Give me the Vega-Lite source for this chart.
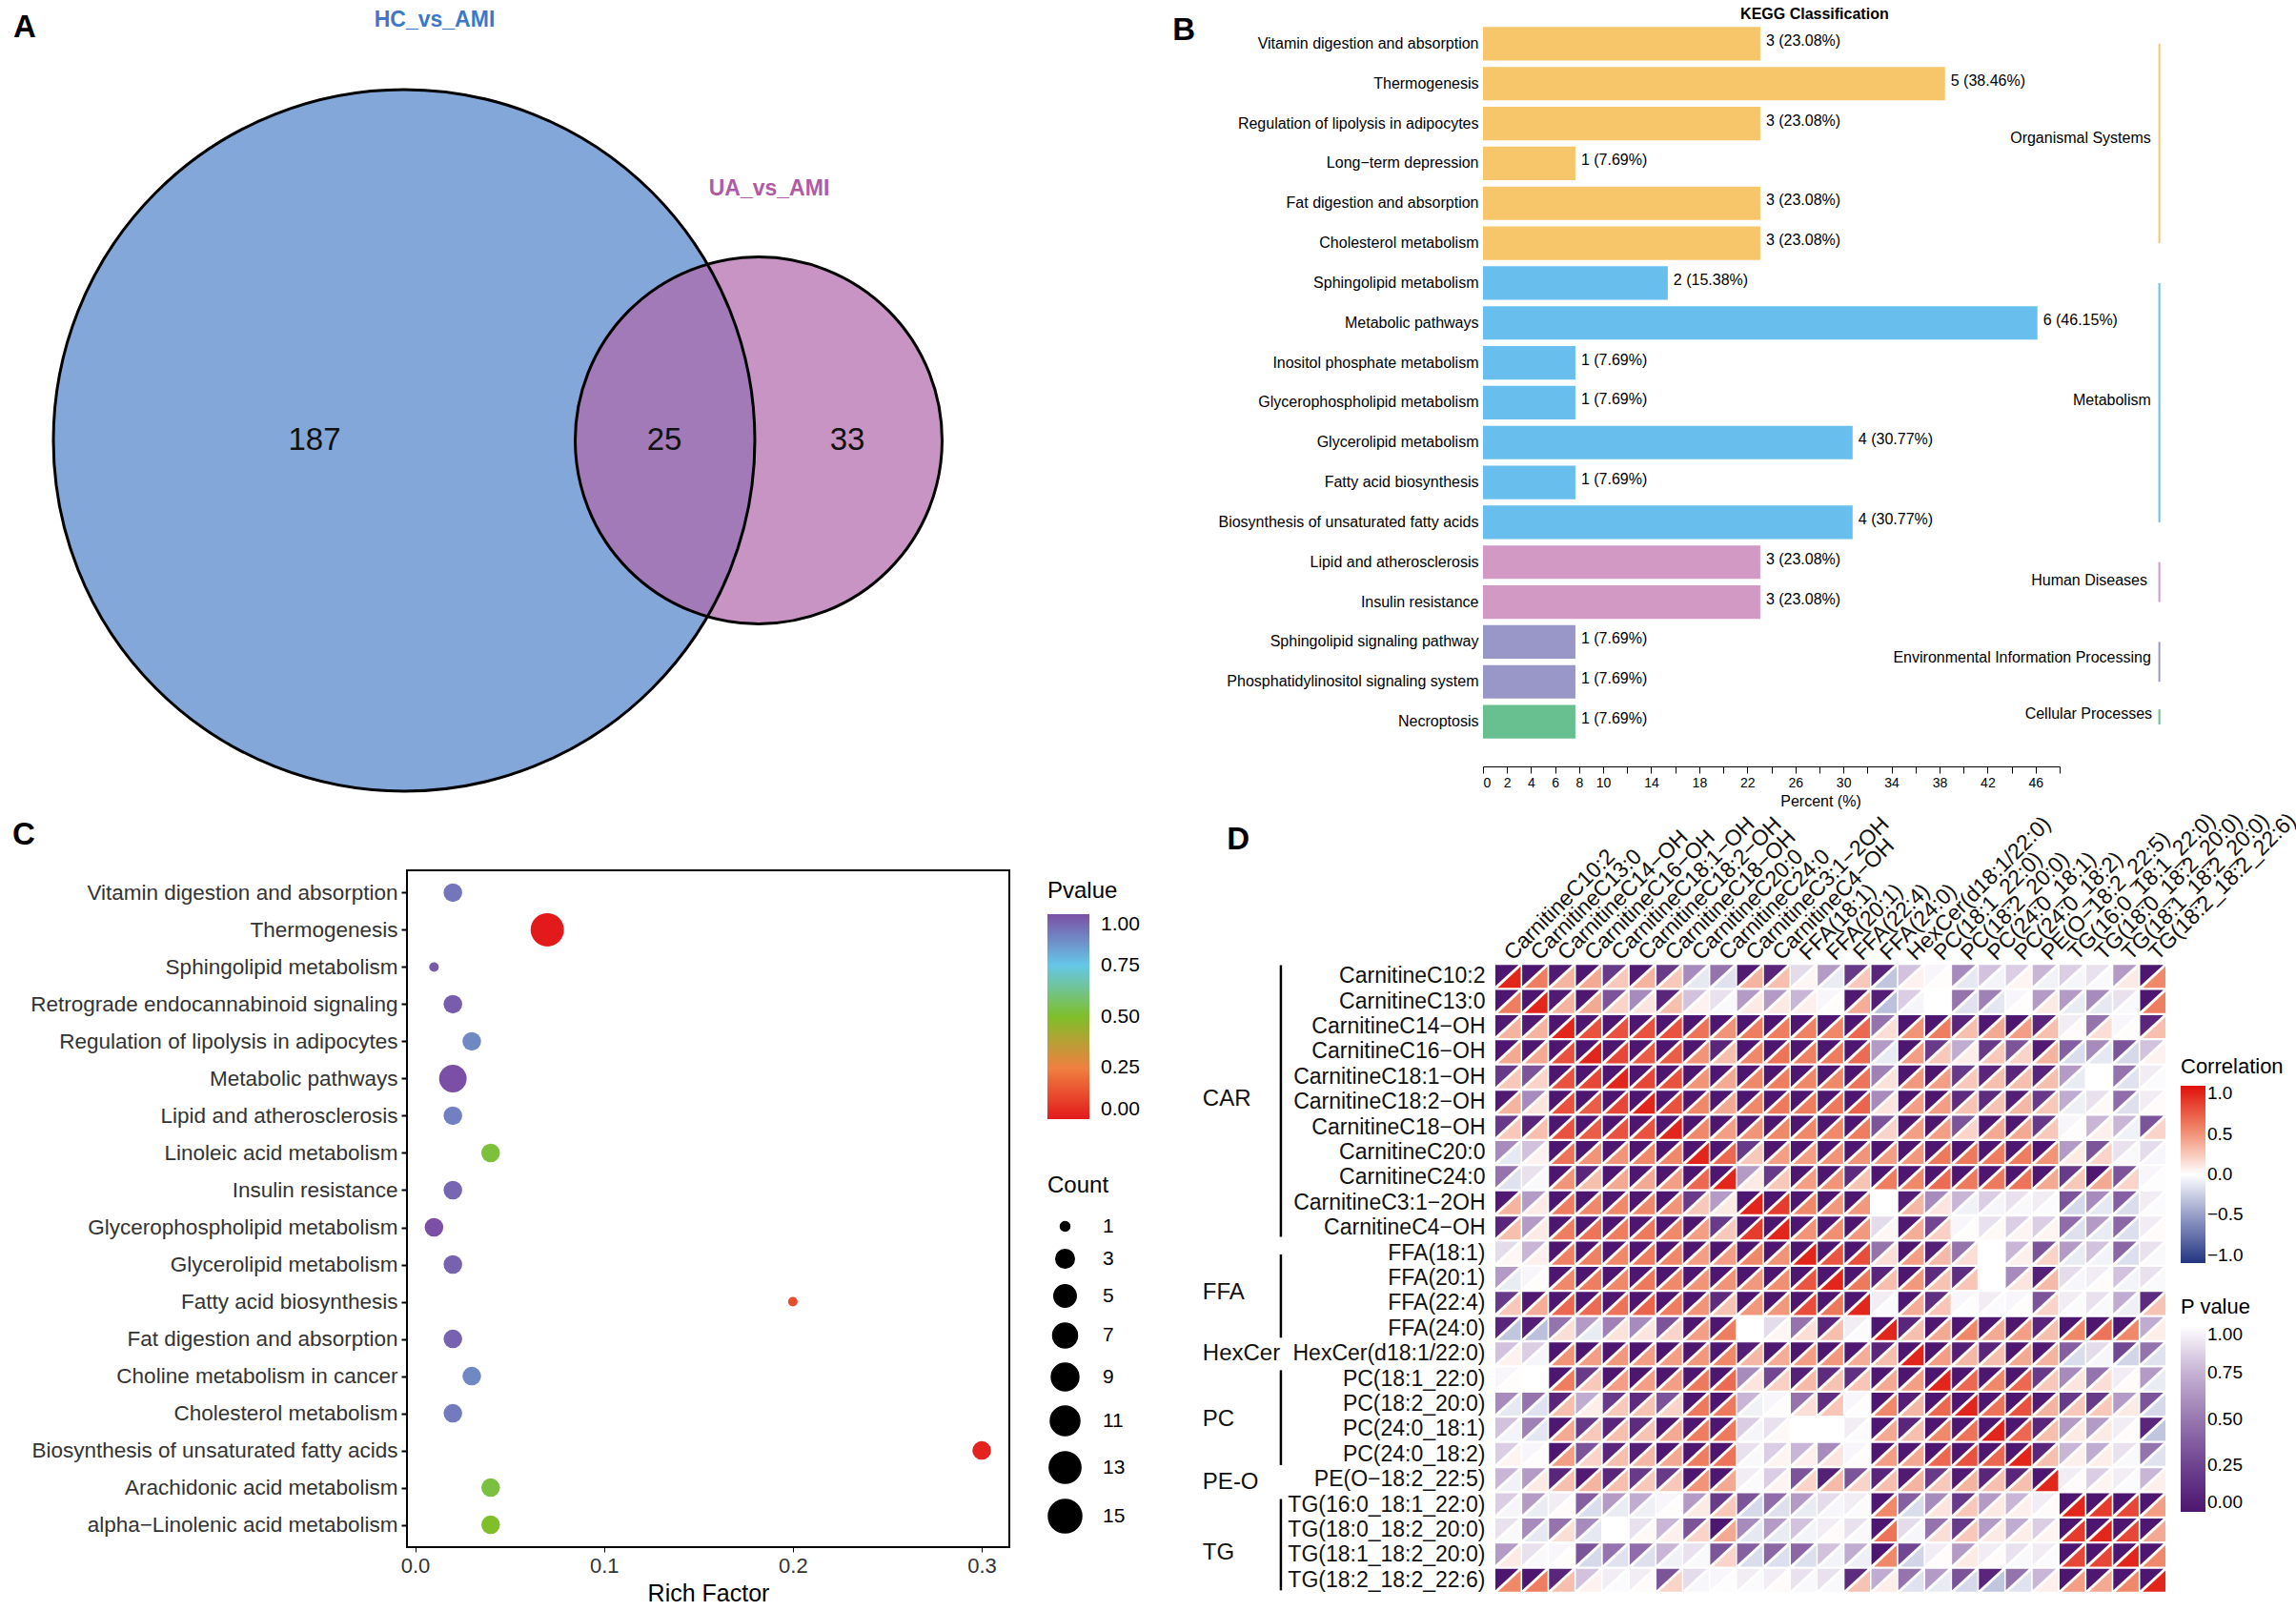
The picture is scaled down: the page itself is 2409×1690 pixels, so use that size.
{"$schema":"https://vega.github.io/schema/vega-lite/v6.json","background":"white","padding":{"left":12,"top":6,"right":0,"bottom":0},"config":{"font":"Liberation Sans","view":{"stroke":null},"axis":{"grid":false},"title":{"font":"Liberation Sans"},"legend":{"titleFont":"Liberation Sans","labelFont":"Liberation Sans"}},"datasets":{"vars":[{"k":0,"n":"CarnitineC10:2"},{"k":1,"n":"CarnitineC13:0"},{"k":2,"n":"CarnitineC14−OH"},{"k":3,"n":"CarnitineC16−OH"},{"k":4,"n":"CarnitineC18:1−OH"},{"k":5,"n":"CarnitineC18:2−OH"},{"k":6,"n":"CarnitineC18−OH"},{"k":7,"n":"CarnitineC20:0"},{"k":8,"n":"CarnitineC24:0"},{"k":9,"n":"CarnitineC3:1−2OH"},{"k":10,"n":"CarnitineC4−OH"},{"k":11,"n":"FFA(18:1)"},{"k":12,"n":"FFA(20:1)"},{"k":13,"n":"FFA(22:4)"},{"k":14,"n":"FFA(24:0)"},{"k":15,"n":"HexCer(d18:1/22:0)"},{"k":16,"n":"PC(18:1_22:0)"},{"k":17,"n":"PC(18:2_20:0)"},{"k":18,"n":"PC(24:0_18:1)"},{"k":19,"n":"PC(24:0_18:2)"},{"k":20,"n":"PE(O−18:2_22:5)"},{"k":21,"n":"TG(16:0_18:1_22:0)"},{"k":22,"n":"TG(18:0_18:2_20:0)"},{"k":23,"n":"TG(18:1_18:2_20:0)"},{"k":24,"n":"TG(18:2_18:2_22:6)"}],
"cells":[
{"i":0,"j":0,"r":1,"p":0},{"i":0,"j":1,"r":0.6,"p":0},{"i":0,"j":2,"r":0.35,"p":0.03},{"i":0,"j":3,"r":0.4,"p":0.006},{"i":0,"j":4,"r":0.25,"p":0.2},{"i":0,"j":5,"r":0.35,"p":0.03},{"i":0,"j":6,"r":0.25,"p":0.2},{"i":0,"j":7,"r":-0.12,"p":0.58},{"i":0,"j":8,"r":-0.15,"p":0.48},{"i":0,"j":9,"r":0.35,"p":0.03},{"i":0,"j":10,"r":0.3,"p":0.09},{"i":0,"j":11,"r":0.04,"p":0.88},{"i":0,"j":12,"r":-0.1,"p":0.65},{"i":0,"j":13,"r":0.25,"p":0.2},{"i":0,"j":14,"r":-0.3,"p":0.09},{"i":0,"j":15,"r":0.06,"p":0.8},{"i":0,"j":16,"r":0.01,"p":0.97},{"i":0,"j":17,"r":-0.12,"p":0.58},{"i":0,"j":18,"r":-0.06,"p":0.8},{"i":0,"j":19,"r":0.05,"p":0.84},{"i":0,"j":20,"r":-0.07,"p":0.76},{"i":0,"j":21,"r":-0.05,"p":0.84},{"i":0,"j":22,"r":-0.03,"p":0.9},{"i":0,"j":23,"r":0.1,"p":0.65},{"i":0,"j":24,"r":0.55,"p":0},
{"i":1,"j":0,"r":0.6,"p":0},{"i":1,"j":1,"r":1,"p":0},{"i":1,"j":2,"r":0.35,"p":0.03},{"i":1,"j":3,"r":0.4,"p":0.006},{"i":1,"j":4,"r":0.2,"p":0.33},{"i":1,"j":5,"r":0.12,"p":0.58},{"i":1,"j":6,"r":0.3,"p":0.09},{"i":1,"j":7,"r":0.06,"p":0.8},{"i":1,"j":8,"r":-0.03,"p":0.9},{"i":1,"j":9,"r":0.1,"p":0.65},{"i":1,"j":10,"r":0.1,"p":0.65},{"i":1,"j":11,"r":0.07,"p":0.76},{"i":1,"j":12,"r":0.01,"p":0.97},{"i":1,"j":13,"r":0.38,"p":0.015},{"i":1,"j":14,"r":-0.33,"p":0.05},{"i":1,"j":15,"r":-0.05,"p":0.84},{"i":1,"j":16,"r":0,"p":1},{"i":1,"j":17,"r":-0.15,"p":0.48},{"i":1,"j":18,"r":-0.13,"p":0.54},{"i":1,"j":19,"r":0.01,"p":0.97},{"i":1,"j":20,"r":0.1,"p":0.65},{"i":1,"j":21,"r":-0.1,"p":0.65},{"i":1,"j":22,"r":-0.12,"p":0.58},{"i":1,"j":23,"r":-0.03,"p":0.9},{"i":1,"j":24,"r":0.6,"p":0},
{"i":2,"j":0,"r":0.35,"p":0.03},{"i":2,"j":1,"r":0.35,"p":0.03},{"i":2,"j":2,"r":1,"p":0},{"i":2,"j":3,"r":0.8,"p":0},{"i":2,"j":4,"r":0.8,"p":0},{"i":2,"j":5,"r":0.8,"p":0},{"i":2,"j":6,"r":0.8,"p":0},{"i":2,"j":7,"r":0.65,"p":0},{"i":2,"j":8,"r":0.5,"p":0},{"i":2,"j":9,"r":0.6,"p":0},{"i":2,"j":10,"r":0.6,"p":0},{"i":2,"j":11,"r":0.58,"p":0},{"i":2,"j":12,"r":0.55,"p":0},{"i":2,"j":13,"r":0.7,"p":0},{"i":2,"j":14,"r":0.15,"p":0.48},{"i":2,"j":15,"r":0.5,"p":0},{"i":2,"j":16,"r":0.6,"p":0},{"i":2,"j":17,"r":0.3,"p":0.09},{"i":2,"j":18,"r":0.4,"p":0.006},{"i":2,"j":19,"r":0.45,"p":0.003},{"i":2,"j":20,"r":0.3,"p":0.09},{"i":2,"j":21,"r":0.02,"p":0.94},{"i":2,"j":22,"r":0.15,"p":0.48},{"i":2,"j":23,"r":0.01,"p":0.97},{"i":2,"j":24,"r":0.3,"p":0.09},
{"i":3,"j":0,"r":0.4,"p":0.006},{"i":3,"j":1,"r":0.4,"p":0.006},{"i":3,"j":2,"r":0.8,"p":0},{"i":3,"j":3,"r":1,"p":0},{"i":3,"j":4,"r":0.85,"p":0},{"i":3,"j":5,"r":0.75,"p":0},{"i":3,"j":6,"r":0.75,"p":0},{"i":3,"j":7,"r":0.5,"p":0},{"i":3,"j":8,"r":0.3,"p":0.09},{"i":3,"j":9,"r":0.55,"p":0},{"i":3,"j":10,"r":0.65,"p":0},{"i":3,"j":11,"r":0.58,"p":0},{"i":3,"j":12,"r":0.6,"p":0},{"i":3,"j":13,"r":0.68,"p":0},{"i":3,"j":14,"r":-0.1,"p":0.65},{"i":3,"j":15,"r":0.45,"p":0.003},{"i":3,"j":16,"r":0.25,"p":0.2},{"i":3,"j":17,"r":0.08,"p":0.72},{"i":3,"j":18,"r":0.25,"p":0.2},{"i":3,"j":19,"r":0.2,"p":0.33},{"i":3,"j":20,"r":0.35,"p":0.03},{"i":3,"j":21,"r":-0.18,"p":0.38},{"i":3,"j":22,"r":-0.12,"p":0.58},{"i":3,"j":23,"r":-0.2,"p":0.33},{"i":3,"j":24,"r":0.06,"p":0.8},
{"i":4,"j":0,"r":0.25,"p":0.2},{"i":4,"j":1,"r":0.2,"p":0.33},{"i":4,"j":2,"r":0.8,"p":0},{"i":4,"j":3,"r":0.85,"p":0},{"i":4,"j":4,"r":1,"p":0},{"i":4,"j":5,"r":0.85,"p":0},{"i":4,"j":6,"r":0.8,"p":0},{"i":4,"j":7,"r":0.5,"p":0},{"i":4,"j":8,"r":0.4,"p":0.006},{"i":4,"j":9,"r":0.55,"p":0},{"i":4,"j":10,"r":0.6,"p":0},{"i":4,"j":11,"r":0.55,"p":0},{"i":4,"j":12,"r":0.55,"p":0},{"i":4,"j":13,"r":0.65,"p":0},{"i":4,"j":14,"r":0.13,"p":0.54},{"i":4,"j":15,"r":0.48,"p":0.003},{"i":4,"j":16,"r":0.45,"p":0.003},{"i":4,"j":17,"r":0.25,"p":0.2},{"i":4,"j":18,"r":0.3,"p":0.09},{"i":4,"j":19,"r":0.3,"p":0.09},{"i":4,"j":20,"r":0.3,"p":0.09},{"i":4,"j":21,"r":-0.1,"p":0.65},{"i":4,"j":22,"r":0,"p":1},{"i":4,"j":23,"r":-0.15,"p":0.48},{"i":4,"j":24,"r":-0.02,"p":0.94},
{"i":5,"j":0,"r":0.35,"p":0.03},{"i":5,"j":1,"r":0.12,"p":0.58},{"i":5,"j":2,"r":0.8,"p":0},{"i":5,"j":3,"r":0.75,"p":0},{"i":5,"j":4,"r":0.85,"p":0},{"i":5,"j":5,"r":1,"p":0},{"i":5,"j":6,"r":0.8,"p":0},{"i":5,"j":7,"r":0.55,"p":0},{"i":5,"j":8,"r":0.4,"p":0.006},{"i":5,"j":9,"r":0.55,"p":0},{"i":5,"j":10,"r":0.62,"p":0},{"i":5,"j":11,"r":0.6,"p":0},{"i":5,"j":12,"r":0.62,"p":0},{"i":5,"j":13,"r":0.72,"p":0},{"i":5,"j":14,"r":0.12,"p":0.58},{"i":5,"j":15,"r":0.45,"p":0.003},{"i":5,"j":16,"r":0.45,"p":0.003},{"i":5,"j":17,"r":0.28,"p":0.12},{"i":5,"j":18,"r":0.28,"p":0.12},{"i":5,"j":19,"r":0.33,"p":0.05},{"i":5,"j":20,"r":0.25,"p":0.2},{"i":5,"j":21,"r":-0.08,"p":0.72},{"i":5,"j":22,"r":0.03,"p":0.9},{"i":5,"j":23,"r":-0.16,"p":0.45},{"i":5,"j":24,"r":0.02,"p":0.94},
{"i":6,"j":0,"r":0.25,"p":0.2},{"i":6,"j":1,"r":0.3,"p":0.09},{"i":6,"j":2,"r":0.8,"p":0},{"i":6,"j":3,"r":0.75,"p":0},{"i":6,"j":4,"r":0.8,"p":0},{"i":6,"j":5,"r":0.8,"p":0},{"i":6,"j":6,"r":1,"p":0},{"i":6,"j":7,"r":0.55,"p":0},{"i":6,"j":8,"r":0.45,"p":0.003},{"i":6,"j":9,"r":0.5,"p":0},{"i":6,"j":10,"r":0.55,"p":0},{"i":6,"j":11,"r":0.55,"p":0},{"i":6,"j":12,"r":0.55,"p":0},{"i":6,"j":13,"r":0.6,"p":0},{"i":6,"j":14,"r":0.2,"p":0.33},{"i":6,"j":15,"r":0.45,"p":0.003},{"i":6,"j":16,"r":0.45,"p":0.003},{"i":6,"j":17,"r":0.2,"p":0.33},{"i":6,"j":18,"r":0.4,"p":0.006},{"i":6,"j":19,"r":0.4,"p":0.006},{"i":6,"j":20,"r":0.25,"p":0.2},{"i":6,"j":21,"r":0.01,"p":0.97},{"i":6,"j":22,"r":0.07,"p":0.76},{"i":6,"j":23,"r":-0.07,"p":0.76},{"i":6,"j":24,"r":0.2,"p":0.33},
{"i":7,"j":0,"r":-0.12,"p":0.58},{"i":7,"j":1,"r":0.06,"p":0.8},{"i":7,"j":2,"r":0.65,"p":0},{"i":7,"j":3,"r":0.5,"p":0},{"i":7,"j":4,"r":0.5,"p":0},{"i":7,"j":5,"r":0.55,"p":0},{"i":7,"j":6,"r":0.55,"p":0},{"i":7,"j":7,"r":1,"p":0},{"i":7,"j":8,"r":0.7,"p":0},{"i":7,"j":9,"r":0.25,"p":0.2},{"i":7,"j":10,"r":0.45,"p":0.003},{"i":7,"j":11,"r":0.45,"p":0.003},{"i":7,"j":12,"r":0.5,"p":0},{"i":7,"j":13,"r":0.5,"p":0},{"i":7,"j":14,"r":0.45,"p":0.003},{"i":7,"j":15,"r":0.48,"p":0.003},{"i":7,"j":16,"r":0.62,"p":0},{"i":7,"j":17,"r":0.62,"p":0},{"i":7,"j":18,"r":0.6,"p":0},{"i":7,"j":19,"r":0.6,"p":0},{"i":7,"j":20,"r":0.5,"p":0},{"i":7,"j":21,"r":0.1,"p":0.65},{"i":7,"j":22,"r":0.2,"p":0.33},{"i":7,"j":23,"r":-0.03,"p":0.9},{"i":7,"j":24,"r":-0.04,"p":0.88},
{"i":8,"j":0,"r":-0.15,"p":0.48},{"i":8,"j":1,"r":-0.03,"p":0.9},{"i":8,"j":2,"r":0.5,"p":0},{"i":8,"j":3,"r":0.3,"p":0.09},{"i":8,"j":4,"r":0.4,"p":0.006},{"i":8,"j":5,"r":0.4,"p":0.006},{"i":8,"j":6,"r":0.45,"p":0.003},{"i":8,"j":7,"r":0.7,"p":0},{"i":8,"j":8,"r":1,"p":0},{"i":8,"j":9,"r":0.1,"p":0.65},{"i":8,"j":10,"r":0.25,"p":0.2},{"i":8,"j":11,"r":0.45,"p":0.003},{"i":8,"j":12,"r":0.5,"p":0},{"i":8,"j":13,"r":0.28,"p":0.12},{"i":8,"j":14,"r":0.6,"p":0},{"i":8,"j":15,"r":0.55,"p":0},{"i":8,"j":16,"r":0.68,"p":0},{"i":8,"j":17,"r":0.62,"p":0},{"i":8,"j":18,"r":0.62,"p":0},{"i":8,"j":19,"r":0.65,"p":0},{"i":8,"j":20,"r":0.4,"p":0.006},{"i":8,"j":21,"r":0.25,"p":0.2},{"i":8,"j":22,"r":0.4,"p":0.006},{"i":8,"j":23,"r":0.2,"p":0.33},{"i":8,"j":24,"r":-0.01,"p":0.97},
{"i":9,"j":0,"r":0.35,"p":0.03},{"i":9,"j":1,"r":0.1,"p":0.65},{"i":9,"j":2,"r":0.6,"p":0},{"i":9,"j":3,"r":0.55,"p":0},{"i":9,"j":4,"r":0.55,"p":0},{"i":9,"j":5,"r":0.55,"p":0},{"i":9,"j":6,"r":0.5,"p":0},{"i":9,"j":7,"r":0.25,"p":0.2},{"i":9,"j":8,"r":0.1,"p":0.65},{"i":9,"j":9,"r":1,"p":0},{"i":9,"j":10,"r":0.9,"p":0},{"i":9,"j":11,"r":0.55,"p":0},{"i":9,"j":12,"r":0.48,"p":0.003},{"i":9,"j":13,"r":0.48,"p":0.003},{"i":9,"j":14,"r":0,"p":1},{"i":9,"j":15,"r":0.33,"p":0.05},{"i":9,"j":16,"r":0.12,"p":0.58},{"i":9,"j":17,"r":-0.07,"p":0.76},{"i":9,"j":18,"r":-0.05,"p":0.84},{"i":9,"j":19,"r":-0.03,"p":0.9},{"i":9,"j":20,"r":-0.02,"p":0.94},{"i":9,"j":21,"r":-0.2,"p":0.33},{"i":9,"j":22,"r":-0.12,"p":0.58},{"i":9,"j":23,"r":-0.18,"p":0.38},{"i":9,"j":24,"r":-0.02,"p":0.94},
{"i":10,"j":0,"r":0.3,"p":0.09},{"i":10,"j":1,"r":0.1,"p":0.65},{"i":10,"j":2,"r":0.6,"p":0},{"i":10,"j":3,"r":0.65,"p":0},{"i":10,"j":4,"r":0.6,"p":0},{"i":10,"j":5,"r":0.62,"p":0},{"i":10,"j":6,"r":0.55,"p":0},{"i":10,"j":7,"r":0.45,"p":0.003},{"i":10,"j":8,"r":0.25,"p":0.2},{"i":10,"j":9,"r":0.9,"p":0},{"i":10,"j":10,"r":1,"p":0},{"i":10,"j":11,"r":0.5,"p":0},{"i":10,"j":12,"r":0.52,"p":0},{"i":10,"j":13,"r":0.48,"p":0.003},{"i":10,"j":14,"r":0.04,"p":0.88},{"i":10,"j":15,"r":0.38,"p":0.015},{"i":10,"j":16,"r":0.22,"p":0.27},{"i":10,"j":17,"r":0.01,"p":0.97},{"i":10,"j":18,"r":0.03,"p":0.9},{"i":10,"j":19,"r":0.05,"p":0.84},{"i":10,"j":20,"r":0.05,"p":0.84},{"i":10,"j":21,"r":-0.16,"p":0.45},{"i":10,"j":22,"r":-0.1,"p":0.65},{"i":10,"j":23,"r":-0.17,"p":0.42},{"i":10,"j":24,"r":0.02,"p":0.94},
{"i":11,"j":0,"r":0.04,"p":0.88},{"i":11,"j":1,"r":0.07,"p":0.76},{"i":11,"j":2,"r":0.58,"p":0},{"i":11,"j":3,"r":0.58,"p":0},{"i":11,"j":4,"r":0.55,"p":0},{"i":11,"j":5,"r":0.6,"p":0},{"i":11,"j":6,"r":0.55,"p":0},{"i":11,"j":7,"r":0.45,"p":0.003},{"i":11,"j":8,"r":0.45,"p":0.003},{"i":11,"j":9,"r":0.55,"p":0},{"i":11,"j":10,"r":0.5,"p":0},{"i":11,"j":11,"r":1,"p":0},{"i":11,"j":12,"r":0.78,"p":0},{"i":11,"j":13,"r":0.82,"p":0},{"i":11,"j":14,"r":0.15,"p":0.48},{"i":11,"j":15,"r":0.45,"p":0.003},{"i":11,"j":16,"r":0.32,"p":0.06},{"i":11,"j":17,"r":0.15,"p":0.48},{"i":11,"j":18,"r":0,"p":1},{"i":11,"j":19,"r":0.07,"p":0.76},{"i":11,"j":20,"r":0.2,"p":0.33},{"i":11,"j":21,"r":-0.1,"p":0.65},{"i":11,"j":22,"r":-0.06,"p":0.8},{"i":11,"j":23,"r":-0.17,"p":0.42},{"i":11,"j":24,"r":-0.03,"p":0.9},
{"i":12,"j":0,"r":-0.1,"p":0.65},{"i":12,"j":1,"r":0.01,"p":0.97},{"i":12,"j":2,"r":0.55,"p":0},{"i":12,"j":3,"r":0.6,"p":0},{"i":12,"j":4,"r":0.55,"p":0},{"i":12,"j":5,"r":0.62,"p":0},{"i":12,"j":6,"r":0.55,"p":0},{"i":12,"j":7,"r":0.5,"p":0},{"i":12,"j":8,"r":0.5,"p":0},{"i":12,"j":9,"r":0.48,"p":0.003},{"i":12,"j":10,"r":0.52,"p":0},{"i":12,"j":11,"r":0.78,"p":0},{"i":12,"j":12,"r":1,"p":0},{"i":12,"j":13,"r":0.62,"p":0},{"i":12,"j":14,"r":0.3,"p":0.09},{"i":12,"j":15,"r":0.48,"p":0.003},{"i":12,"j":16,"r":0.28,"p":0.12},{"i":12,"j":17,"r":0.27,"p":0.14},{"i":12,"j":18,"r":0,"p":1},{"i":12,"j":19,"r":0.12,"p":0.58},{"i":12,"j":20,"r":0.32,"p":0.06},{"i":12,"j":21,"r":-0.04,"p":0.88},{"i":12,"j":22,"r":0.02,"p":0.94},{"i":12,"j":23,"r":-0.06,"p":0.8},{"i":12,"j":24,"r":-0.03,"p":0.9},
{"i":13,"j":0,"r":0.25,"p":0.2},{"i":13,"j":1,"r":0.38,"p":0.015},{"i":13,"j":2,"r":0.7,"p":0},{"i":13,"j":3,"r":0.68,"p":0},{"i":13,"j":4,"r":0.65,"p":0},{"i":13,"j":5,"r":0.72,"p":0},{"i":13,"j":6,"r":0.6,"p":0},{"i":13,"j":7,"r":0.5,"p":0},{"i":13,"j":8,"r":0.28,"p":0.12},{"i":13,"j":9,"r":0.48,"p":0.003},{"i":13,"j":10,"r":0.48,"p":0.003},{"i":13,"j":11,"r":0.82,"p":0},{"i":13,"j":12,"r":0.62,"p":0},{"i":13,"j":13,"r":1,"p":0},{"i":13,"j":14,"r":-0.02,"p":0.94},{"i":13,"j":15,"r":0.38,"p":0.015},{"i":13,"j":16,"r":0.27,"p":0.14},{"i":13,"j":17,"r":-0.01,"p":0.97},{"i":13,"j":18,"r":-0.02,"p":0.94},{"i":13,"j":19,"r":0.01,"p":0.97},{"i":13,"j":20,"r":0.2,"p":0.33},{"i":13,"j":21,"r":-0.02,"p":0.94},{"i":13,"j":22,"r":-0.03,"p":0.9},{"i":13,"j":23,"r":-0.08,"p":0.72},{"i":13,"j":24,"r":0.28,"p":0.12},
{"i":14,"j":0,"r":-0.3,"p":0.09},{"i":14,"j":1,"r":-0.33,"p":0.05},{"i":14,"j":2,"r":0.15,"p":0.48},{"i":14,"j":3,"r":-0.1,"p":0.65},{"i":14,"j":4,"r":0.13,"p":0.54},{"i":14,"j":5,"r":0.12,"p":0.58},{"i":14,"j":6,"r":0.2,"p":0.33},{"i":14,"j":7,"r":0.45,"p":0.003},{"i":14,"j":8,"r":0.6,"p":0},{"i":14,"j":9,"r":0,"p":1},{"i":14,"j":10,"r":0.04,"p":0.88},{"i":14,"j":11,"r":0.15,"p":0.48},{"i":14,"j":12,"r":0.3,"p":0.09},{"i":14,"j":13,"r":-0.02,"p":0.94},{"i":14,"j":14,"r":1,"p":0},{"i":14,"j":15,"r":0.3,"p":0.09},{"i":14,"j":16,"r":0.4,"p":0.006},{"i":14,"j":17,"r":0.55,"p":0},{"i":14,"j":18,"r":0.4,"p":0.006},{"i":14,"j":19,"r":0.45,"p":0.003},{"i":14,"j":20,"r":0.3,"p":0.09},{"i":14,"j":21,"r":0.55,"p":0},{"i":14,"j":22,"r":0.65,"p":0},{"i":14,"j":23,"r":0.55,"p":0},{"i":14,"j":24,"r":0.08,"p":0.72},
{"i":15,"j":0,"r":0.06,"p":0.8},{"i":15,"j":1,"r":-0.05,"p":0.84},{"i":15,"j":2,"r":0.5,"p":0},{"i":15,"j":3,"r":0.45,"p":0.003},{"i":15,"j":4,"r":0.48,"p":0.003},{"i":15,"j":5,"r":0.45,"p":0.003},{"i":15,"j":6,"r":0.45,"p":0.003},{"i":15,"j":7,"r":0.48,"p":0.003},{"i":15,"j":8,"r":0.55,"p":0},{"i":15,"j":9,"r":0.33,"p":0.05},{"i":15,"j":10,"r":0.38,"p":0.015},{"i":15,"j":11,"r":0.45,"p":0.003},{"i":15,"j":12,"r":0.48,"p":0.003},{"i":15,"j":13,"r":0.38,"p":0.015},{"i":15,"j":14,"r":0.3,"p":0.09},{"i":15,"j":15,"r":1,"p":0},{"i":15,"j":16,"r":0.45,"p":0.003},{"i":15,"j":17,"r":0.33,"p":0.05},{"i":15,"j":18,"r":0.3,"p":0.09},{"i":15,"j":19,"r":0.4,"p":0.006},{"i":15,"j":20,"r":0.35,"p":0.03},{"i":15,"j":21,"r":-0.18,"p":0.38},{"i":15,"j":22,"r":-0.04,"p":0.88},{"i":15,"j":23,"r":-0.22,"p":0.27},{"i":15,"j":24,"r":-0.15,"p":0.48},
{"i":16,"j":0,"r":0.01,"p":0.97},{"i":16,"j":1,"r":0,"p":1},{"i":16,"j":2,"r":0.6,"p":0},{"i":16,"j":3,"r":0.25,"p":0.2},{"i":16,"j":4,"r":0.45,"p":0.003},{"i":16,"j":5,"r":0.45,"p":0.003},{"i":16,"j":6,"r":0.45,"p":0.003},{"i":16,"j":7,"r":0.62,"p":0},{"i":16,"j":8,"r":0.68,"p":0},{"i":16,"j":9,"r":0.12,"p":0.58},{"i":16,"j":10,"r":0.22,"p":0.27},{"i":16,"j":11,"r":0.32,"p":0.06},{"i":16,"j":12,"r":0.28,"p":0.12},{"i":16,"j":13,"r":0.27,"p":0.14},{"i":16,"j":14,"r":0.4,"p":0.006},{"i":16,"j":15,"r":0.45,"p":0.003},{"i":16,"j":16,"r":1,"p":0},{"i":16,"j":17,"r":0.7,"p":0},{"i":16,"j":18,"r":0.55,"p":0},{"i":16,"j":19,"r":0.7,"p":0},{"i":16,"j":20,"r":0.25,"p":0.2},{"i":16,"j":21,"r":0.12,"p":0.58},{"i":16,"j":22,"r":0.15,"p":0.48},{"i":16,"j":23,"r":0.02,"p":0.94},{"i":16,"j":24,"r":-0.1,"p":0.65},
{"i":17,"j":0,"r":-0.12,"p":0.58},{"i":17,"j":1,"r":-0.15,"p":0.48},{"i":17,"j":2,"r":0.3,"p":0.09},{"i":17,"j":3,"r":0.08,"p":0.72},{"i":17,"j":4,"r":0.25,"p":0.2},{"i":17,"j":5,"r":0.28,"p":0.12},{"i":17,"j":6,"r":0.2,"p":0.33},{"i":17,"j":7,"r":0.62,"p":0},{"i":17,"j":8,"r":0.62,"p":0},{"i":17,"j":9,"r":-0.07,"p":0.76},{"i":17,"j":10,"r":0.01,"p":0.97},{"i":17,"j":11,"r":0.15,"p":0.48},{"i":17,"j":12,"r":0.27,"p":0.14},{"i":17,"j":13,"r":-0.01,"p":0.97},{"i":17,"j":14,"r":0.55,"p":0},{"i":17,"j":15,"r":0.33,"p":0.05},{"i":17,"j":16,"r":0.7,"p":0},{"i":17,"j":17,"r":1,"p":0},{"i":17,"j":18,"r":0.65,"p":0},{"i":17,"j":19,"r":0.8,"p":0},{"i":17,"j":20,"r":0.35,"p":0.03},{"i":17,"j":21,"r":0.25,"p":0.2},{"i":17,"j":22,"r":0.25,"p":0.2},{"i":17,"j":23,"r":0.1,"p":0.65},{"i":17,"j":24,"r":-0.2,"p":0.33},
{"i":18,"j":0,"r":-0.06,"p":0.8},{"i":18,"j":1,"r":-0.13,"p":0.54},{"i":18,"j":2,"r":0.4,"p":0.006},{"i":18,"j":3,"r":0.25,"p":0.2},{"i":18,"j":4,"r":0.3,"p":0.09},{"i":18,"j":5,"r":0.28,"p":0.12},{"i":18,"j":6,"r":0.4,"p":0.006},{"i":18,"j":7,"r":0.6,"p":0},{"i":18,"j":8,"r":0.62,"p":0},{"i":18,"j":9,"r":-0.05,"p":0.84},{"i":18,"j":10,"r":0.03,"p":0.9},{"i":18,"j":11,"r":0,"p":1},{"i":18,"j":12,"r":0,"p":1},{"i":18,"j":13,"r":-0.02,"p":0.94},{"i":18,"j":14,"r":0.4,"p":0.006},{"i":18,"j":15,"r":0.3,"p":0.09},{"i":18,"j":16,"r":0.55,"p":0},{"i":18,"j":17,"r":0.65,"p":0},{"i":18,"j":18,"r":1,"p":0},{"i":18,"j":19,"r":0.7,"p":0},{"i":18,"j":20,"r":0.3,"p":0.09},{"i":18,"j":21,"r":0.1,"p":0.65},{"i":18,"j":22,"r":0.1,"p":0.65},{"i":18,"j":23,"r":0.02,"p":0.94},{"i":18,"j":24,"r":-0.3,"p":0.09},
{"i":19,"j":0,"r":0.05,"p":0.84},{"i":19,"j":1,"r":0.01,"p":0.97},{"i":19,"j":2,"r":0.45,"p":0.003},{"i":19,"j":3,"r":0.2,"p":0.33},{"i":19,"j":4,"r":0.3,"p":0.09},{"i":19,"j":5,"r":0.33,"p":0.05},{"i":19,"j":6,"r":0.4,"p":0.006},{"i":19,"j":7,"r":0.6,"p":0},{"i":19,"j":8,"r":0.65,"p":0},{"i":19,"j":9,"r":-0.03,"p":0.9},{"i":19,"j":10,"r":0.05,"p":0.84},{"i":19,"j":11,"r":0.07,"p":0.76},{"i":19,"j":12,"r":0.12,"p":0.58},{"i":19,"j":13,"r":0.01,"p":0.97},{"i":19,"j":14,"r":0.45,"p":0.003},{"i":19,"j":15,"r":0.4,"p":0.006},{"i":19,"j":16,"r":0.7,"p":0},{"i":19,"j":17,"r":0.8,"p":0},{"i":19,"j":18,"r":0.7,"p":0},{"i":19,"j":19,"r":1,"p":0},{"i":19,"j":20,"r":0.3,"p":0.09},{"i":19,"j":21,"r":0.07,"p":0.76},{"i":19,"j":22,"r":0.08,"p":0.72},{"i":19,"j":23,"r":-0.03,"p":0.9},{"i":19,"j":24,"r":-0.15,"p":0.48},
{"i":20,"j":0,"r":-0.07,"p":0.76},{"i":20,"j":1,"r":0.1,"p":0.65},{"i":20,"j":2,"r":0.3,"p":0.09},{"i":20,"j":3,"r":0.35,"p":0.03},{"i":20,"j":4,"r":0.3,"p":0.09},{"i":20,"j":5,"r":0.25,"p":0.2},{"i":20,"j":6,"r":0.25,"p":0.2},{"i":20,"j":7,"r":0.5,"p":0},{"i":20,"j":8,"r":0.4,"p":0.006},{"i":20,"j":9,"r":-0.02,"p":0.94},{"i":20,"j":10,"r":0.05,"p":0.84},{"i":20,"j":11,"r":0.2,"p":0.33},{"i":20,"j":12,"r":0.32,"p":0.06},{"i":20,"j":13,"r":0.2,"p":0.33},{"i":20,"j":14,"r":0.3,"p":0.09},{"i":20,"j":15,"r":0.35,"p":0.03},{"i":20,"j":16,"r":0.25,"p":0.2},{"i":20,"j":17,"r":0.35,"p":0.03},{"i":20,"j":18,"r":0.3,"p":0.09},{"i":20,"j":19,"r":0.3,"p":0.09},{"i":20,"j":20,"r":1,"p":0},{"i":20,"j":21,"r":0.02,"p":0.94},{"i":20,"j":22,"r":0.05,"p":0.84},{"i":20,"j":23,"r":-0.02,"p":0.94},{"i":20,"j":24,"r":0.07,"p":0.76},
{"i":21,"j":0,"r":-0.05,"p":0.84},{"i":21,"j":1,"r":-0.1,"p":0.65},{"i":21,"j":2,"r":0.02,"p":0.94},{"i":21,"j":3,"r":-0.18,"p":0.38},{"i":21,"j":4,"r":-0.1,"p":0.65},{"i":21,"j":5,"r":-0.08,"p":0.72},{"i":21,"j":6,"r":0.01,"p":0.97},{"i":21,"j":7,"r":0.1,"p":0.65},{"i":21,"j":8,"r":0.25,"p":0.2},{"i":21,"j":9,"r":-0.2,"p":0.33},{"i":21,"j":10,"r":-0.16,"p":0.45},{"i":21,"j":11,"r":-0.1,"p":0.65},{"i":21,"j":12,"r":-0.04,"p":0.88},{"i":21,"j":13,"r":-0.02,"p":0.94},{"i":21,"j":14,"r":0.55,"p":0},{"i":21,"j":15,"r":-0.18,"p":0.38},{"i":21,"j":16,"r":0.12,"p":0.58},{"i":21,"j":17,"r":0.25,"p":0.2},{"i":21,"j":18,"r":0.1,"p":0.65},{"i":21,"j":19,"r":0.07,"p":0.76},{"i":21,"j":20,"r":0.02,"p":0.94},{"i":21,"j":21,"r":1,"p":0},{"i":21,"j":22,"r":0.9,"p":0},{"i":21,"j":23,"r":0.85,"p":0},{"i":21,"j":24,"r":0.45,"p":0.003},
{"i":22,"j":0,"r":-0.03,"p":0.9},{"i":22,"j":1,"r":-0.12,"p":0.58},{"i":22,"j":2,"r":0.15,"p":0.48},{"i":22,"j":3,"r":-0.12,"p":0.58},{"i":22,"j":4,"r":0,"p":1},{"i":22,"j":5,"r":0.03,"p":0.9},{"i":22,"j":6,"r":0.07,"p":0.76},{"i":22,"j":7,"r":0.2,"p":0.33},{"i":22,"j":8,"r":0.4,"p":0.006},{"i":22,"j":9,"r":-0.12,"p":0.58},{"i":22,"j":10,"r":-0.1,"p":0.65},{"i":22,"j":11,"r":-0.06,"p":0.8},{"i":22,"j":12,"r":0.02,"p":0.94},{"i":22,"j":13,"r":-0.03,"p":0.9},{"i":22,"j":14,"r":0.65,"p":0},{"i":22,"j":15,"r":-0.04,"p":0.88},{"i":22,"j":16,"r":0.15,"p":0.48},{"i":22,"j":17,"r":0.25,"p":0.2},{"i":22,"j":18,"r":0.1,"p":0.65},{"i":22,"j":19,"r":0.08,"p":0.72},{"i":22,"j":20,"r":0.05,"p":0.84},{"i":22,"j":21,"r":0.9,"p":0},{"i":22,"j":22,"r":1,"p":0},{"i":22,"j":23,"r":0.85,"p":0},{"i":22,"j":24,"r":0.4,"p":0.006},
{"i":23,"j":0,"r":0.1,"p":0.65},{"i":23,"j":1,"r":-0.03,"p":0.9},{"i":23,"j":2,"r":0.01,"p":0.97},{"i":23,"j":3,"r":-0.2,"p":0.33},{"i":23,"j":4,"r":-0.15,"p":0.48},{"i":23,"j":5,"r":-0.16,"p":0.45},{"i":23,"j":6,"r":-0.07,"p":0.76},{"i":23,"j":7,"r":-0.03,"p":0.9},{"i":23,"j":8,"r":0.2,"p":0.33},{"i":23,"j":9,"r":-0.18,"p":0.38},{"i":23,"j":10,"r":-0.17,"p":0.42},{"i":23,"j":11,"r":-0.17,"p":0.42},{"i":23,"j":12,"r":-0.06,"p":0.8},{"i":23,"j":13,"r":-0.08,"p":0.72},{"i":23,"j":14,"r":0.55,"p":0},{"i":23,"j":15,"r":-0.22,"p":0.27},{"i":23,"j":16,"r":0.02,"p":0.94},{"i":23,"j":17,"r":0.1,"p":0.65},{"i":23,"j":18,"r":0.02,"p":0.94},{"i":23,"j":19,"r":-0.03,"p":0.9},{"i":23,"j":20,"r":-0.02,"p":0.94},{"i":23,"j":21,"r":0.85,"p":0},{"i":23,"j":22,"r":0.85,"p":0},{"i":23,"j":23,"r":1,"p":0},{"i":23,"j":24,"r":0.55,"p":0},
{"i":24,"j":0,"r":0.55,"p":0},{"i":24,"j":1,"r":0.6,"p":0},{"i":24,"j":2,"r":0.3,"p":0.09},{"i":24,"j":3,"r":0.06,"p":0.8},{"i":24,"j":4,"r":-0.02,"p":0.94},{"i":24,"j":5,"r":0.02,"p":0.94},{"i":24,"j":6,"r":0.2,"p":0.33},{"i":24,"j":7,"r":-0.04,"p":0.88},{"i":24,"j":8,"r":-0.01,"p":0.97},{"i":24,"j":9,"r":-0.02,"p":0.94},{"i":24,"j":10,"r":0.02,"p":0.94},{"i":24,"j":11,"r":-0.03,"p":0.9},{"i":24,"j":12,"r":-0.03,"p":0.9},{"i":24,"j":13,"r":0.28,"p":0.12},{"i":24,"j":14,"r":0.08,"p":0.72},{"i":24,"j":15,"r":-0.15,"p":0.48},{"i":24,"j":16,"r":-0.1,"p":0.65},{"i":24,"j":17,"r":-0.2,"p":0.33},{"i":24,"j":18,"r":-0.3,"p":0.09},{"i":24,"j":19,"r":-0.15,"p":0.48},{"i":24,"j":20,"r":0.07,"p":0.76},{"i":24,"j":21,"r":0.45,"p":0.003},{"i":24,"j":22,"r":0.4,"p":0.006},{"i":24,"j":23,"r":0.55,"p":0},{"i":24,"j":24,"r":1,"p":0}
]},
"bounds":"flush","spacing":1129,"resolve":{"scale":{"color":"independent","size":"independent"},"legend":{"color":"independent","size":"independent"}},
"hconcat":[
{"bounds":"flush","spacing":135,"resolve":{"scale":{"color":"independent","size":"independent"},"legend":{"color":"independent","size":"independent"}},"vconcat":[
{"width":632,"height":753,
"layer":[
{"data":{"values":[{"set":"HC_vs_AMI","vx":-0.75,"vy":109.25,"total":212},{"set":"UA_vs_AMI","vx":92.25,"vy":109.25,"total":58}]},
"layer":[
{"transform":[{"filter":"datum.set=='HC_vs_AMI'"}],"mark":{"type":"point","filled":true,"opacity":1,"color":"#82A7D8"},"encoding":{}},
{"transform":[{"filter":"datum.set=='UA_vs_AMI'"}],"mark":{"type":"point","filled":true,"opacity":0.7,"color":"#AF66A9"},"encoding":{}},
{"mark":{"type":"point","filled":false,"opacity":1,"stroke":"#000","strokeWidth":3},"encoding":{}}],
"encoding":{"x":{"field":"vx","type":"quantitative","axis":null,"scale":{"domain":[0,158]}},"y":{"field":"vy","type":"quantitative","axis":null,"scale":{"domain":[188.25,0]}},"size":{"field":"total","type":"quantitative","legend":null,"scale":{"domain":[0,212],"range":[0,541696]}}}},
{"data":{"values":[{"t":"187","vx":-24.25,"vy":109.25},{"t":"25","vx":67.5,"vy":109.25},{"t":"33","vx":115.5,"vy":109.25}]},"mark":{"type":"text","fontSize":33,"color":"#111"},"encoding":{"text":{"field":"t"},"x":{"field":"vx","type":"quantitative","axis":null,"scale":{"domain":[0,158]}},"y":{"field":"vy","type":"quantitative","axis":null,"scale":{"domain":[188.25,0]}}}},
{"data":{"values":[{"t":"HC_vs_AMI","vx":7.25,"vy":-1,"c":"HC"},{"t":"UA_vs_AMI","vx":95,"vy":43.25,"c":"UA"}]},"mark":{"type":"text","fontSize":23,"fontWeight":"bold"},"encoding":{"text":{"field":"t"},"x":{"field":"vx","type":"quantitative","axis":null,"scale":{"domain":[0,158]}},"y":{"field":"vy","type":"quantitative","axis":null,"scale":{"domain":[188.25,0]}},"color":{"field":"c","type":"nominal","legend":null,"scale":{"domain":["HC","UA"],"range":["#3D78C8","#B05AA5"]}}}},
{"data":{"values":[{"t":"A","vx":-100.25,"vy":1}]},"mark":{"type":"text","fontSize":33,"fontWeight":"bold","color":"#000"},"encoding":{"text":{"field":"t"},"x":{"field":"vx","type":"quantitative","axis":null,"scale":{"domain":[0,158]}},"y":{"field":"vy","type":"quantitative","axis":null,"scale":{"domain":[188.25,0]}}}}
]},
{"width":632,"height":710,"view":{"stroke":"#000","strokeWidth":2},"title":{"text":"C","anchor":"start","frame":"group","dx":-414,"offset":20,"fontSize":33,"fontWeight":"bold","color":"#000"},
"data":{"values":[{"path":"Vitamin digestion and absorption","rich":0.02,"pv":0.92,"count":3},{"path":"Thermogenesis","rich":0.07,"pv":0,"count":15},{"path":"Sphingolipid metabolism","rich":0.01,"pv":0.98,"count":1},{"path":"Retrograde endocannabinoid signaling","rich":0.02,"pv":0.97,"count":3},{"path":"Regulation of lipolysis in adipocytes","rich":0.03,"pv":0.88,"count":3},{"path":"Metabolic pathways","rich":0.02,"pv":1,"count":9},{"path":"Lipid and atherosclerosis","rich":0.02,"pv":0.9,"count":3},{"path":"Linoleic acid metabolism","rich":0.04,"pv":0.52,"count":3},{"path":"Insulin resistance","rich":0.02,"pv":0.95,"count":3},{"path":"Glycerophospholipid metabolism","rich":0.01,"pv":1,"count":3},{"path":"Glycerolipid metabolism","rich":0.02,"pv":0.96,"count":3},{"path":"Fatty acid biosynthesis","rich":0.2,"pv":0.12,"count":1},{"path":"Fat digestion and absorption","rich":0.02,"pv":0.96,"count":3},{"path":"Choline metabolism in cancer","rich":0.03,"pv":0.88,"count":3},{"path":"Cholesterol metabolism","rich":0.02,"pv":0.91,"count":3},{"path":"Biosynthesis of unsaturated fatty acids","rich":0.3,"pv":0.02,"count":3},{"path":"Arachidonic acid metabolism","rich":0.04,"pv":0.53,"count":3},{"path":"alpha−Linolenic acid metabolism","rich":0.04,"pv":0.5,"count":3}]},
"mark":{"type":"point","filled":true,"opacity":1},
"encoding":{"x":{"field":"rich","type":"quantitative","title":"Rich Factor","scale":{"domain":[-0.0043,0.3146],"nice":false,"zero":false},"axis":{"values":[0,0.1,0.2,0.3],"format":".1f","labelFontSize":22,"labelColor":"#333","titleFontSize":25,"titleFontWeight":"normal","titleColor":"#000","tickColor":"#000","tickSize":5,"domain":false,"labelPadding":4,"titlePadding":6}},
"y":{"field":"path","type":"nominal","sort":null,"title":null,"scale":{"type":"point","padding":0.6},"axis":{"labelFontSize":22.5,"labelColor":"#333","tickColor":"#000","tickSize":6,"tickWidth":2,"domain":false,"labelPadding":4,"labelLimit":500}},
"color":{"field":"pv","type":"quantitative","scale":{"domain":[0,0.25,0.5,0.75,1],"range":["#E31A1C","#F08040","#7FBF2A","#65C7E8","#7B4FA5"],"interpolate":"rgb"},"legend":{"orient":"none","legendX":672,"legendY":10,"title":"Pvalue","titleFontSize":24,"titleFontWeight":"normal","titleColor":"#000","titlePadding":12,"labelFontSize":21,"labelColor":"#000","labelOffset":12,"gradientLength":215,"gradientThickness":44,"values":[0,0.25,0.5,0.75,1],"format":".2f","tickCount":5}},
"size":{"field":"count","type":"quantitative","scale":{"domain":[1,3,5,7,9,11,13,15],"range":[100,380,548,676,835,961,1100,1225]},"legend":{"orient":"none","legendX":672,"legendY":319,"title":"Count","titleFontSize":24,"titleFontWeight":"normal","titleColor":"#000","titlePadding":20,"labelFontSize":21,"labelColor":"#000","labelOffset":21,"values":[1,3,5,7,9,11,13,15],"symbolFillColor":"#000","symbolStrokeColor":"#000","symbolType":"circle","rowPadding":10,"symbolOpacity":1}}}}
]},
{"bounds":"flush","spacing":233,"resolve":{"scale":{"color":"independent","size":"independent"},"legend":{"color":"independent","size":"independent"}},"vconcat":[
{"width":605,"height":753,
"resolve":{"scale":{"y":"independent","x":"independent"}},
"layer":[
{"data":{"values":[{"path":"Vitamin digestion and absorption","pct":23.08,"lab":"3 (23.08%)","cat":"Organismal Systems"},{"path":"Thermogenesis","pct":38.46,"lab":"5 (38.46%)","cat":"Organismal Systems"},{"path":"Regulation of lipolysis in adipocytes","pct":23.08,"lab":"3 (23.08%)","cat":"Organismal Systems"},{"path":"Long−term depression","pct":7.69,"lab":"1 (7.69%)","cat":"Organismal Systems"},{"path":"Fat digestion and absorption","pct":23.08,"lab":"3 (23.08%)","cat":"Organismal Systems"},{"path":"Cholesterol metabolism","pct":23.08,"lab":"3 (23.08%)","cat":"Organismal Systems"},{"path":"Sphingolipid metabolism","pct":15.38,"lab":"2 (15.38%)","cat":"Metabolism"},{"path":"Metabolic pathways","pct":46.15,"lab":"6 (46.15%)","cat":"Metabolism"},{"path":"Inositol phosphate metabolism","pct":7.69,"lab":"1 (7.69%)","cat":"Metabolism"},{"path":"Glycerophospholipid metabolism","pct":7.69,"lab":"1 (7.69%)","cat":"Metabolism"},{"path":"Glycerolipid metabolism","pct":30.77,"lab":"4 (30.77%)","cat":"Metabolism"},{"path":"Fatty acid biosynthesis","pct":7.69,"lab":"1 (7.69%)","cat":"Metabolism"},{"path":"Biosynthesis of unsaturated fatty acids","pct":30.77,"lab":"4 (30.77%)","cat":"Metabolism"},{"path":"Lipid and atherosclerosis","pct":23.08,"lab":"3 (23.08%)","cat":"Human Diseases"},{"path":"Insulin resistance","pct":23.08,"lab":"3 (23.08%)","cat":"Human Diseases"},{"path":"Sphingolipid signaling pathway","pct":7.69,"lab":"1 (7.69%)","cat":"Environmental Information Processing"},{"path":"Phosphatidylinositol signaling system","pct":7.69,"lab":"1 (7.69%)","cat":"Environmental Information Processing"},{"path":"Necroptosis","pct":7.69,"lab":"1 (7.69%)","cat":"Cellular Processes"}]},
"encoding":{"y":{"field":"path","type":"nominal","sort":null,"title":null,"scale":{"paddingInner":0.16,"paddingOuter":0.08},"axis":{"labelFontSize":16,"labelColor":"#000","ticks":false,"domain":false,"labelPadding":5,"labelLimit":400}},
"x":{"field":"pct","type":"quantitative","title":"Percent (%)","scale":{"domain":[0,48],"nice":false},"axis":{"offset":26,"values":[0,2,4,6,8,10,12,14,16,18,20,22,24,26,28,30,32,34,36,38,40,42,44,46,48],"labelExpr":"(datum.value<=10||(datum.value-10)%4==0)&&datum.value<48?datum.label:''","labelFontSize":14,"labelColor":"#000","labelOverlap":false,"tickColor":"#000","domainColor":"#000","tickSize":7,"titleFontSize":16,"titleFontWeight":"normal","titleColor":"#000","titleX":354,"titlePadding":4,"labelPadding":3}}},
"layer":[
{"mark":{"type":"bar"},"encoding":{"color":{"field":"cat","type":"nominal","legend":null,"scale":{"domain":["Organismal Systems","Metabolism","Human Diseases","Environmental Information Processing","Cellular Processes"],"range":["#F7C66A","#68BFEE","#D199C3","#9897C7","#68BF8F"]}}}},
{"mark":{"type":"text","align":"left","dx":6,"dy":-3,"fontSize":16,"color":"#000"},"encoding":{"text":{"field":"lab"}}}
]},
{"data":{"values":[{"cat":"Organismal Systems","px":56.3,"tx":55.6,"s":0.5,"e":5.5,"m":2.86},{"cat":"Metabolism","px":56.3,"tx":55.6,"s":6.5,"e":12.5,"m":9.44},{"cat":"Human Diseases","px":56.3,"tx":55.3,"s":13.5,"e":14.5,"m":13.96},{"cat":"Environmental Information Processing","px":56.3,"tx":55.6,"s":15.5,"e":16.5,"m":15.9},{"cat":"Cellular Processes","px":56.3,"tx":55.7,"s":17.19,"e":17.57,"m":17.3}]},
"encoding":{"y":{"field":"s","type":"quantitative","axis":null,"scale":{"domain":[18,0]}}},
"layer":[
{"mark":{"type":"rule","strokeWidth":2},"encoding":{"x":{"field":"px","type":"quantitative","axis":null,"scale":{"domain":[0,48],"nice":false}},"y2":{"field":"e"},"color":{"field":"cat","type":"nominal","legend":null,"scale":{"domain":["Organismal Systems","Metabolism","Human Diseases","Environmental Information Processing","Cellular Processes"],"range":["#F7C66A","#68BFEE","#D199C3","#9897C7","#68BF8F"]}}}},
{"mark":{"type":"text","align":"right","fontSize":16,"color":"#000"},"encoding":{"x":{"field":"tx","type":"quantitative","axis":null,"scale":{"domain":[0,48],"nice":false}},"y":{"field":"m","type":"quantitative","axis":null,"scale":{"domain":[18,0]}},"text":{"field":"cat"}}}
]},
{"data":{"values":[{"t":"KEGG Classification","tx":27.6,"ty":-0.25}]},"mark":{"type":"text","fontSize":16,"fontWeight":"bold","color":"#000"},"encoding":{"text":{"field":"t"},"x":{"field":"tx","type":"quantitative","axis":null,"scale":{"domain":[0,48],"nice":false}},"y":{"field":"ty","type":"quantitative","axis":null,"scale":{"domain":[18,0]}}}},
{"data":{"values":[{"t":"B","tx":-24.9,"ty":0.17}]},"mark":{"type":"text","fontSize":33,"fontWeight":"bold","color":"#000"},"encoding":{"text":{"field":"t"},"x":{"field":"tx","type":"quantitative","axis":null,"scale":{"domain":[0,48],"nice":false}},"y":{"field":"ty","type":"quantitative","axis":null,"scale":{"domain":[18,0]}}}}
]},
{"width":729,"height":660,
"resolve":{"scale":{"x":"independent","y":"independent"}},
"layer":[
{"data":{"name":"cells"},"transform":[{"lookup":"i","from":{"data":{"name":"vars"},"key":"k","fields":["n"]},"as":["row"]},{"lookup":"j","from":{"data":{"name":"vars"},"key":"k","fields":["n"]},"as":["col"]}],
"encoding":{"x":{"field":"col","type":"nominal","sort":{"field":"j","op":"min"},"title":null,"scale":{"type":"band","paddingInner":0,"paddingOuter":0.43},"axis":{"orient":"top","labelAngle":-45,"labelAlign":"left","labelBaseline":"middle","labelFontSize":23,"labelColor":"#111","ticks":false,"domain":false,"labelPadding":8,"labelLimit":400,"labelOverlap":false}},"y":{"field":"row","type":"nominal","sort":{"field":"i","op":"min"},"title":null,"scale":{"type":"band","padding":0},"axis":{"labelFontSize":23,"labelColor":"#111","ticks":false,"domain":false,"labelPadding":-2,"labelLimit":400,"labelOverlap":false}}},
"resolve":{"scale":{"color":"independent"}},
"layer":[
{"mark":{"type":"point","filled":true,"opacity":1,"size":784,"shape":"M0.95,0.86L-0.76,0.86L0.95,-0.74Z"},"encoding":{"color":{"field":"r","type":"quantitative","scale":{"domain":[-1.1,-0.55,0,0.55,1.1],"range":["#22357F","#8E96C4","#FFFFFF","#F0896A","#E0100A"],"interpolate":"rgb"},"legend":{"orient":"none","legendX":732,"legendY":98,"title":"Correlation","titleFontSize":22,"titleFontWeight":"normal","titleColor":"#000","titlePadding":8,"labelFontSize":19,"labelColor":"#000","gradientLength":186,"gradientThickness":26,"values":[-1,-0.5,0,0.5,1],"format":".1f"}}}},
{"mark":{"type":"point","filled":true,"opacity":1,"size":784,"shape":"M-0.95,-0.86L0.79,-0.86L-0.95,0.74Z"},"encoding":{"color":{"field":"p","type":"quantitative","scale":{"domain":[0,0.25,0.5,0.75,1],"range":["#4D1670","#6E4390","#9878B0","#C7B3D5","#FFFFFF"],"interpolate":"rgb"},"legend":{"orient":"none","legendX":732,"legendY":350,"title":"P value","titleFontSize":22,"titleFontWeight":"normal","titleColor":"#000","titlePadding":8,"labelFontSize":19,"labelColor":"#000","gradientLength":195,"gradientThickness":26,"values":[0,0.25,0.5,0.75,1],"format":".2f"}}}}
]},
{"data":{"values":[{"g":"CAR","s":0.06,"e":10.85,"m":5.38,"gx":-7.52,"tx":-10.43},{"g":"FFA","s":11.55,"e":14.86,"m":13.08,"gx":-7.52,"tx":-10.43},{"g":"HexCer","m":15.5,"tx":-10.43},{"g":"PC","s":16.15,"e":19.92,"m":18.1,"gx":-7.52,"tx":-10.43},{"g":"PE-O","m":20.6,"tx":-10.43},{"g":"TG","s":21.27,"e":24.9,"m":23.4,"gx":-7.52,"tx":-10.43}]},
"layer":[
{"transform":[{"filter":"isValid(datum.s)"}],"mark":{"type":"rule","strokeWidth":2.5,"color":"#000"},"encoding":{"x":{"field":"gx","type":"quantitative","axis":null,"scale":{"domain":[0,25.85]}},"y":{"field":"s","type":"quantitative","axis":null,"scale":{"domain":[25,0]}},"y2":{"field":"e"}}},
{"mark":{"type":"text","align":"left","fontSize":24,"color":"#111"},"encoding":{"x":{"field":"tx","type":"quantitative","axis":null,"scale":{"domain":[0,25.85]}},"y":{"field":"m","type":"quantitative","axis":null,"scale":{"domain":[25,0]}},"text":{"field":"g"}}}
]},
{"data":{"values":[{"t":"D","tx":-9.11,"ty":-4.92}]},"mark":{"type":"text","fontSize":33,"fontWeight":"bold","color":"#000"},"encoding":{"text":{"field":"t"},"x":{"field":"tx","type":"quantitative","axis":null,"scale":{"domain":[0,25.85]}},"y":{"field":"ty","type":"quantitative","axis":null,"scale":{"domain":[25,0]}}}}
]}
]}
]}
